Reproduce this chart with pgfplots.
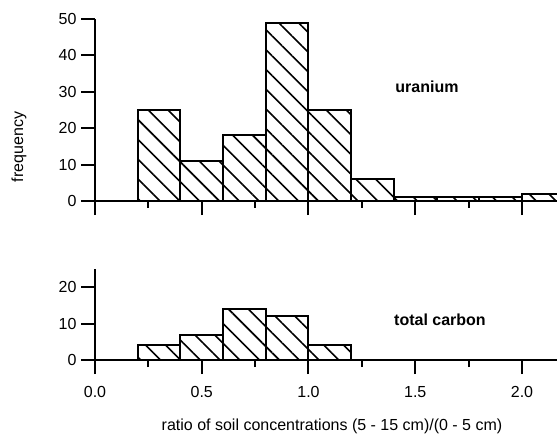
\documentclass[border=0pt]{standalone}
\usepackage{fontspec}
\setmainfont{Liberation Sans}
\usepackage{pgfplots}
\pgfplotsset{compat=1.18}
\usetikzlibrary{patterns.meta}

\pgfplotsset{
  hist/.style={
    scale only axis,
    width=462pt,
    xmin=0, xmax=2.164,
    ymin=0,
    axis x line=bottom,
    axis y line=left,
    axis line style={-, line width=2pt},
    xtick={0,0.5,1.0,1.5,2.0},
    minor xtick={0.25,0.75,1.25,1.75},
    tick align=outside,
    major tick length=14pt,
    minor tick length=7pt,
    every tick/.style={black, line width=2pt},
    /pgf/number format/assume math mode=true,
    tick label style={font=\fontsize{16}{19}\selectfont},
    yticklabel style={xshift=-1pt},
  },
  bars/.style={
    ybar interval,
    draw=black,
    line width=2pt,
    pattern={Lines[angle=-45, distance=14pt, line width=1.6pt]},
  },
}

\begin{document}
\begin{tikzpicture}[x=1pt, y=1pt]
\useasboundingbox (0,0) rectangle (557,437);

% uranium
\begin{axis}[hist,
    at={(95pt,236pt)}, anchor=south west,
    height=182pt, ymax=50,
    ytick={0,10,20,30,40,50},
    xticklabels={},
]
\addplot[bars] coordinates {
  (0.2,25) (0.4,11) (0.6,18) (0.8,49) (1.0,25) (1.2,6)
  (1.4,1) (1.6,1) (1.8,1) (2.0,2) (2.2,2)
};
\end{axis}

% total carbon
\begin{axis}[hist,
    at={(95pt,77pt)}, anchor=south west,
    height=91pt, ymax=25,
    ytick={0,10,20},
    xticklabel style={yshift=-9pt, /pgf/number format/.cd, fixed, fixed zerofill, precision=1},
]
\addplot[bars] coordinates {
  (0.2,4) (0.4,7) (0.6,14) (0.8,12) (1.0,4) (1.2,4)
};
\end{axis}

\node[font=\fontsize{16}{19}\selectfont\bfseries] at (427,350) {uranium};
\node[font=\fontsize{16}{19}\selectfont\bfseries] at (440,117) {total carbon};
\node[font=\fontsize{16}{19}\selectfont] at (332,11) {ratio of soil concentrations (5 - 15 cm)/(0 - 5 cm)};
\node[font=\fontsize{16}{19}\selectfont, rotate=90] at (19,290) {frequency};
\end{tikzpicture}
\end{document}
